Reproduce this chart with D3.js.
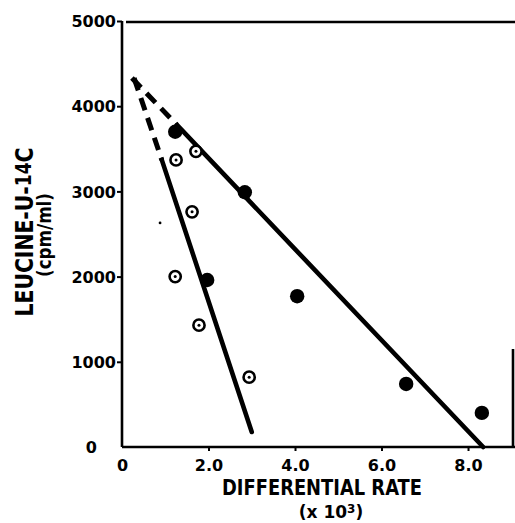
<!DOCTYPE html>
<html>
<head>
	<meta charset="UTF-8"/>
	<title>Leucine vs differential rate</title>
	<style type="text/css">
		body { margin: 0; background: #fff; }
		svg { display: block; }
		text { font-family: 'DejaVu Sans', sans-serif; font-weight: bold; fill: #000; }
		.tick text { font-size: 16px; }
		.domain { display: none; }
		.tick line { stroke: #000; stroke-width: 2; }
	</style>
	<script src="https://d3js.org/d3.v7.min.js"></script>
</head>
<body>
	<svg width="515" height="523"></svg>
	<script>
		// values (x in units of 10^3, y in cpm/ml)
		const filledX = [1.23, 2.84, 1.97, 4.05, 6.57, 8.32];
		const filledY = [3700, 2990, 1960, 1770, 740, 400];
		const openX = [1.25, 1.71, 1.62, 1.23, 1.78, 2.94];
		const openY = [3370, 3470, 2760, 2000, 1430, 820];
		const speckX = [0.88];
		const speckY = [2630];

		// fitted lines: dashed extrapolation, then solid part
		const lineFilledX = [0.23, 1.27, 8.35];
		const lineFilledY = [4330, 3780, 0];
		const lineOpenX = [0.28, 0.92, 3.0];
		const lineOpenY = [4330, 3370, 176];

		const xTicks = [0, 2, 4, 6, 8];
		const xTickLabels = ['0', '2.0', '4.0', '6.0', '8.0'];
		const yTicks = [0, 1000, 2000, 3000, 4000, 5000];

		const svg = d3.select('svg');

		const x = d3.scaleLinear().domain([0, 9.04]).range([122, 513]);
		const y = d3.scaleLinear().domain([0, 5000]).range([447, 21]);

		// frame: left, bottom, top and the short right edge
		const frame = svg.append('g')
			.attr('stroke', '#000')
			.attr('fill', 'none')
			.attr('stroke-width', 2.6);
		frame.append('line')
			.attr('x1', x(0)).attr('x2', x(0))
			.attr('y1', y(5000)).attr('y2', y(0));
		frame.append('line')
			.attr('x1', x(0)).attr('x2', 515)
			.attr('y1', y(0)).attr('y2', y(0));
		frame.append('line')
			.attr('x1', x(0) + 4).attr('x2', 515)
			.attr('y1', y(5000) + 1).attr('y2', y(5000) + 1);
		frame.append('line')
			.attr('x1', x(9.04)).attr('x2', x(9.04))
			.attr('y1', y(1150)).attr('y2', y(0));

		// y axis
		const yAxis = svg.append('g')
			.attr('transform', `translate(${x(0)},0)`)
			.call(d3.axisLeft(y).tickValues(yTicks).tickSize(5).tickPadding(1).tickFormat(d3.format('d')));
		yAxis.selectAll('.tick text').attr('dy', '0.36em');
		yAxis.selectAll('.tick').filter(d => d === 0).select('line').remove();
		yAxis.selectAll('.tick').filter(d => d === 0).select('text').attr('x', -25);

		// x axis
		const xAxis = svg.append('g')
			.attr('transform', `translate(0,${y(0)})`)
			.call(d3.axisBottom(x).tickValues(xTicks).tickSize(4).tickPadding(9)
				.tickFormat((d, i) => xTickLabels[i]));
		xAxis.selectAll('.tick').filter(d => d === 0).select('line').remove();

		// fitted lines
		function drawFit(xs, ys) {
			const dashed = [[xs[0], ys[0]], [xs[1], ys[1]]];
			const solid = [[xs[1], ys[1]], [xs[2], ys[2]]];
			const ln = d3.line().x(d => x(d[0])).y(d => y(d[1]));
			svg.append('path')
				.attr('d', ln(dashed))
				.attr('fill', 'none')
				.attr('stroke', '#000')
				.attr('stroke-width', 5)
				.attr('stroke-dasharray', '13 8');
			svg.append('path')
				.attr('d', ln(solid))
				.attr('fill', 'none')
				.attr('stroke', '#000')
				.attr('stroke-width', 4.6)
				.attr('stroke-linecap', 'round');
		}
		drawFit(lineFilledX, lineFilledY);
		drawFit(lineOpenX, lineOpenY);

		// filled points
		svg.append('g').selectAll('circle')
			.data(d3.range(filledX.length))
			.join('circle')
			.attr('cx', i => x(filledX[i]))
			.attr('cy', i => y(filledY[i]))
			.attr('r', 7.2)
			.attr('fill', '#000');

		// open points with centre dot
		const op = svg.append('g').selectAll('g')
			.data(d3.range(openX.length))
			.join('g')
			.attr('transform', i => `translate(${x(openX[i])},${y(openY[i])})`);
		op.append('circle')
			.attr('r', 5.6)
			.attr('fill', '#fff')
			.attr('stroke', '#000')
			.attr('stroke-width', 2.6);
		op.append('circle')
			.attr('r', 1.5)
			.attr('fill', '#000');

		svg.append('g').selectAll('circle')
			.data(d3.range(speckX.length))
			.join('circle')
			.attr('cx', i => x(speckX[i]))
			.attr('cy', i => y(speckY[i]))
			.attr('r', 1.4)
			.attr('fill', '#000');

		// axis titles
		const yt = svg.append('text')
			.attr('transform', 'translate(33,232) rotate(-90)')
			.attr('text-anchor', 'middle')
			.attr('font-size', 25)
			.attr('textLength', 169)
			.attr('lengthAdjust', 'spacingAndGlyphs');
		yt.append('tspan').text('LEUCINE-U-');
		yt.append('tspan').attr('font-size', 21).attr('dy', -2).text('14');
		yt.append('tspan').attr('dy', 2).text('C');

		svg.append('text')
			.attr('transform', 'translate(51,235) rotate(-90)')
			.attr('text-anchor', 'middle')
			.attr('font-size', 20)
			.attr('textLength', 84)
			.attr('lengthAdjust', 'spacingAndGlyphs')
			.text('(cpm/ml)');

		svg.append('text')
			.attr('x', 322).attr('y', 495)
			.attr('text-anchor', 'middle')
			.attr('font-size', 21)
			.attr('textLength', 200)
			.attr('lengthAdjust', 'spacingAndGlyphs')
			.text('DIFFERENTIAL RATE');

		const xt = svg.append('text')
			.attr('x', 331).attr('y', 518)
			.attr('text-anchor', 'middle')
			.attr('font-size', 17);
		xt.append('tspan').text('(x 10');
		xt.append('tspan').attr('font-size', 12).attr('dy', -5).text('3');
		xt.append('tspan').attr('dy', 5).text(')');
	</script>
</body>
</html>
